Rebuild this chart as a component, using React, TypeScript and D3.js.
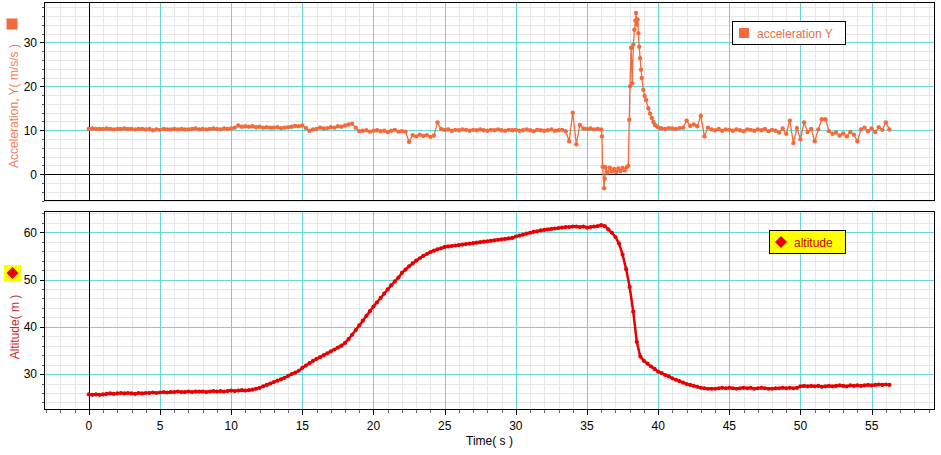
import * as d3 from 'd3'

// acceleration Y (m/s/s), sampled every 0.25 s from t = 0 to t = 35.75
const accelHead = [
  10.3, 10.4, 10.3, 10.3, 10.3, 10.4, 10.3, 10.2, 10.3, 10.3, 10.4, 10.3,
  10.3, 10.2, 10.3, 10.3, 10.2, 10.3, 10.0, 10.2, 10.1, 10.3, 10.2, 10.2,
  10.3, 10.2, 10.3, 10.2, 10.2, 10.3, 10.4, 10.2, 10.3, 10.2, 10.3, 10.4,
  10.3, 10.2, 10.4, 10.3, 10.4, 10.6, 11.1, 10.8, 10.9, 10.8, 10.9, 10.7,
  10.8, 10.6, 10.7, 10.6, 10.6, 10.7, 10.5, 10.6, 10.7, 10.8, 11.0, 10.9,
  11.1, 10.5, 9.9, 10.2, 10.3, 10.6, 10.4, 10.5, 10.7, 10.6, 10.9, 10.8,
  11.1, 11.3, 11.5, 10.6, 9.8, 9.9, 10.0, 9.7, 9.9, 10.0, 9.8, 9.9,
  9.6, 9.9, 10.1, 9.7, 9.8, 9.7, 7.4, 8.9, 8.6, 9.0, 8.7, 8.9,
  8.5, 8.8, 11.8, 10.3, 10.1, 10.2, 9.9, 10.1, 10.0, 10.2, 10.1, 9.9,
  10.1, 10.0, 10.2, 10.0, 9.9, 10.1, 10.0, 10.2, 10.0, 9.9, 10.1, 10.0,
  10.1, 9.9, 10.0, 10.2, 10.0, 9.8, 10.1, 10.0, 9.9, 10.0, 10.2, 9.9,
  10.0, 10.1, 9.8, 7.5, 14.0, 6.8, 11.2, 10.4, 10.3, 10.4, 10.2, 10.3,
]

// free fall and parachute opening, irregular samples [t, value]
const accelEvent: [number, number][] = [
  [36.0, 10.2], [36.05, 8.6], [36.1, 1.7], [36.2, -3.2], [36.25, -1.0], [36.3, 1.6],
  [36.45, 0.4], [36.6, 1.5], [36.75, 0.6], [36.9, 1.2], [37.05, 0.5], [37.2, 1.3],
  [37.35, 0.7], [37.5, 1.4], [37.65, 0.9], [37.8, 1.6], [37.9, 1.9], [37.97, 12.4],
  [38.02, 20.0], [38.1, 28.8], [38.18, 20.7], [38.26, 29.5], [38.33, 32.9], [38.4, 35.0],
  [38.45, 36.7], [38.5, 34.0], [38.56, 35.2], [38.61, 32.1], [38.67, 29.0], [38.73, 26.4],
  [38.8, 23.8], [38.85, 21.9], [38.96, 19.2], [39.05, 17.8], [39.15, 16.9], [39.31, 15.0],
  [39.43, 13.8], [39.55, 12.8], [39.67, 11.9], [39.78, 11.2], [39.95, 10.8], [40.1, 10.5],
]

// every 0.25 s from t = 40.25
const accelTail = [
  10.4, 10.3, 10.5, 10.4, 10.3, 10.5, 10.6, 12.2, 11.0, 11.3, 10.9, 13.3,
  8.6, 10.6, 10.2, 10.0, 10.3, 9.9, 10.2, 10.1, 9.9, 10.2, 10.0, 9.8,
  10.2, 10.1, 9.9, 10.2, 10.0, 10.3, 9.8, 10.1, 9.9, 9.5, 10.4, 9.2,
  12.2, 7.1, 10.5, 7.9, 11.8, 9.6, 10.3, 7.5, 10.2, 12.5, 12.5, 9.8,
  9.2, 9.5, 8.8, 9.3, 8.6, 9.6, 9.0, 7.5, 10.2, 10.6, 9.8, 10.4,
  9.6, 10.7, 10.1, 11.8, 10.2,
]

// altitude (m), every 0.25 s from t = 0
const altitude = [
  25.7, 25.6, 25.7, 25.6, 25.7, 25.8, 25.9, 25.8, 25.9, 26.0, 25.9, 26.0,
  25.9, 25.8, 26.0, 25.9, 26.0, 26.0, 26.1, 26.0, 26.1, 26.2, 26.1, 26.2,
  26.2, 26.3, 26.2, 26.2, 26.3, 26.2, 26.3, 26.3, 26.3, 26.2, 26.3, 26.4,
  26.3, 26.4, 26.3, 26.4, 26.5, 26.4, 26.5, 26.6, 26.5, 26.6, 26.7, 26.9,
  27.1, 27.4, 27.7, 28.0, 28.3, 28.6, 28.9, 29.2, 29.6, 30.0, 30.3, 30.7,
  31.3, 31.8, 32.3, 32.8, 33.2, 33.6, 34.0, 34.4, 34.8, 35.2, 35.6, 36.0,
  36.6, 37.4, 38.3, 39.3, 40.3, 41.3, 42.3, 43.3, 44.3, 45.2, 46.1, 47.0,
  47.9, 48.8, 49.6, 50.4, 51.4, 52.1, 52.8, 53.4, 54.0, 54.5, 55.0, 55.4,
  55.8, 56.1, 56.4, 56.6, 56.9, 57.0, 57.1, 57.2, 57.3, 57.4, 57.5, 57.6,
  57.7, 57.8, 57.9, 58.0, 58.1, 58.2, 58.3, 58.4, 58.5, 58.6, 58.7, 58.8,
  59.1, 59.3, 59.5, 59.7, 59.9, 60.1, 60.2, 60.4, 60.5, 60.6, 60.7, 60.8,
  60.9, 61.0, 61.1, 61.1, 61.2, 61.2, 61.1, 61.2, 61.0, 61.1, 61.2, 61.3,
  61.5, 61.3, 60.6, 59.9, 59.0, 57.6, 55.3, 52.2, 48.4, 43.2, 36.8, 33.7,
  32.8, 32.2, 31.6, 31.1, 30.5, 30.2, 29.8, 29.5, 29.1, 28.8, 28.5, 28.2,
  27.9, 27.7, 27.5, 27.3, 27.1, 27.0, 26.9, 26.9, 26.9, 27.0, 27.1, 27.0,
  27.1, 27.0, 26.9, 27.0, 27.1, 27.0, 27.1, 26.9, 27.0, 27.1, 27.0, 26.9,
  26.9, 27.0, 27.0, 27.1, 27.0, 27.1, 27.0, 27.1, 27.4, 27.5, 27.4, 27.5,
  27.4, 27.5, 27.3, 27.4, 27.5, 27.4, 27.5, 27.6, 27.5, 27.4, 27.6, 27.5,
  27.6, 27.5, 27.6, 27.7, 27.6, 27.7, 27.8, 27.7, 27.8, 27.7,
]

const step = 0.25
const xTicks = [0, 5, 10, 15, 20, 25, 30, 35, 40, 45, 50, 55]
const accelTicks = [0, 10, 20, 30]
const altTicks = [30, 40, 50, 60]

const W = 941
const H = 455
const left = 44
const right = 935
const top1 = 2, bottom1 = 201
const top2 = 211, bottom2 = 410

const accelColor = '#f36a3b'
const altColor = '#e80000'
const majorGrid = '#66d6d6'
const minorGrid = '#e6e6e6'
const font = '"Liberation Sans", Arial, sans-serif'

const px = (v: number) => Math.round(v) + 0.5

const App = () => {
  const x = d3.scaleLinear().domain([-3.15, 59.45]).range([left, right])
  const yAcc = d3.scaleLinear().domain([-6.1, 39.2]).range([bottom1, top1])
  const yAlt = d3.scaleLinear().domain([22.4, 64.5]).range([bottom2, top2])

  const accelData: [number, number][] = [
    ...accelHead.map((v, i) => [i * step, v] as [number, number]),
    ...accelEvent,
    ...accelTail.map((v, i) => [40.25 + i * step, v] as [number, number]),
  ]
  const altData: [number, number][] = altitude.map((v, i) => [i * step, v])

  const accLine = d3.line<[number, number]>().x(d => x(d[0])).y(d => yAcc(d[1]))
  const altLine = d3.line<[number, number]>().x(d => x(d[0])).y(d => yAlt(d[1]))

  const minorX = d3.range(-3, 60, 1).filter(v => v % 5 !== 0)
  const majorX = xTicks.filter(v => v !== 0)

  const grid = (y: d3.ScaleLinear<number, number>, y0: number, y1: number,
                minorY: number[], majorY: number[]) => (
    <g>
      <rect x={left} y={y0} width={right - left} height={y1 - y0} fill="#fff" />
      {minorX.map(v => (
        <line key={'mx' + v} x1={px(x(v))} x2={px(x(v))} y1={y0} y2={y1} stroke={minorGrid} />
      ))}
      {minorY.map(v => (
        <line key={'my' + v} x1={left} x2={right} y1={px(y(v))} y2={px(y(v))} stroke={minorGrid} />
      ))}
      {majorX.map(v => (
        <line key={'Mx' + v} x1={px(x(v))} x2={px(x(v))} y1={y0} y2={y1} stroke={majorGrid} />
      ))}
      {majorY.map(v => (
        <line key={'My' + v} x1={left} x2={right} y1={px(y(v))} y2={px(y(v))} stroke={majorGrid} />
      ))}
      <line x1={px(x(0))} x2={px(x(0))} y1={y0} y2={y1} stroke="#000" />
      {/* y ticks */}
      {minorY.map(v => (
        <line key={'ty' + v} x1={left - 2} x2={left} y1={px(y(v))} y2={px(y(v))} stroke="#555" />
      ))}
      {majorY.map(v => (
        <g key={'tl' + v}>
          <line x1={left - 4} x2={left} y1={px(y(v))} y2={px(y(v))} stroke="#000" />
          <text x={37} y={y(v)} dy="0.36em" textAnchor="end" fontSize={12} fontFamily={font} fill="#000">
            {v}
          </text>
        </g>
      ))}
    </g>
  )

  return (
    <div style={{ position: 'absolute', left: 0, top: 0 }}>
      <svg width={W} height={H} style={{ display: 'block', background: '#fff' }}>
        <defs>
          <clipPath id="clip1"><rect x={left} y={top1} width={right - left} height={bottom1 - top1} /></clipPath>
          <clipPath id="clip2"><rect x={left} y={top2} width={right - left} height={bottom2 - top2} /></clipPath>
        </defs>

        {/* acceleration panel */}
        {grid(yAcc, top1, bottom1, d3.range(-6, 40, 2).filter(v => v % 10 !== 0), accelTicks.filter(v => v !== 0))}
        {accelTicks.filter(v => v === 0).map(v => (
          <g key="zero">
            <line x1={left - 4} x2={left} y1={px(yAcc(0))} y2={px(yAcc(0))} stroke="#000" />
            <text x={37} y={yAcc(0)} dy="0.36em" textAnchor="end" fontSize={12} fontFamily={font}>{v}</text>
          </g>
        ))}
        <line x1={left} x2={right} y1={px(yAcc(0))} y2={px(yAcc(0))} stroke="#000" />
        <g clipPath="url(#clip1)">
          <path d={accLine(accelData) ?? ''} fill="none" stroke={accelColor} strokeWidth={1.3} />
          {accelData.map((d, i) => (
            <circle key={i} cx={x(d[0])} cy={yAcc(d[1])} r={2.2} fill={accelColor} />
          ))}
        </g>
        <rect x={left + 0.5} y={top1 + 0.5} width={right - left - 1} height={bottom1 - top1 - 1} fill="none" stroke="#000" />

        {/* altitude panel */}
        {grid(yAlt, top2, bottom2, d3.range(24, 65, 2).filter(v => v % 10 !== 0), altTicks)}
        <g clipPath="url(#clip2)">
          <path d={altLine(altData) ?? ''} fill="none" stroke={altColor} strokeWidth={2.5} />
          {altData.map((d, i) => (
            <circle key={i} cx={x(d[0])} cy={yAlt(d[1])} r={2.1} fill={altColor} />
          ))}
        </g>
        <rect x={left + 0.5} y={top2 + 0.5} width={right - left - 1} height={bottom2 - top2 - 1} fill="none" stroke="#000" />

        {/* x axis */}
        {d3.range(-3, 60, 1).map(v => (
          <line key={'xt' + v} x1={px(x(v))} x2={px(x(v))} y1={bottom2} y2={bottom2 + (v % 5 === 0 ? 5 : 3)}
                stroke={v % 5 === 0 ? '#000' : '#666'} />
        ))}
        {xTicks.map(v => (
          <text key={'xl' + v} x={x(v)} y={430} textAnchor="middle" fontSize={12} fontFamily={font}>{v}</text>
        ))}
        <text x={(left + right) / 2} y={445} textAnchor="middle" fontSize={12} fontFamily={font}>Time( s )</text>

        {/* y axis titles */}
        <rect x={6.5} y={18.5} width={11} height={11} fill={accelColor} />
        <text transform="translate(18,106) rotate(-90)" textAnchor="middle" fontSize={12} fontFamily={font} fill="#ee7d58">
          Acceleration, Y( m/s/s )
        </text>
        <rect x={4} y={265} width={17} height={17} fill="#ffff00" />
        <path d="M12.5,267 L18.5,273 L12.5,279 L6.5,273 Z" fill={altColor} />
        <text transform="translate(19,327) rotate(-90)" textAnchor="middle" fontSize={12} fontFamily={font} fill="#cc2b2b">
          Altitude( m )
        </text>

        {/* legends */}
        <rect x={732.5} y={21.5} width={113} height={23} fill="#fff" stroke="#000" />
        <rect x={739} y={28} width={10} height={10} fill={accelColor} />
        <text x={757} y={38} fontSize={12} fontFamily={font} fill="#e0714c">acceleration Y</text>

        <rect x={769.5} y={230.5} width={76} height={23} fill="#ffff00" stroke="#000" />
        <path d="M781,236 L787,242 L781,248 L775,242 Z" fill={altColor} />
        <text x={794} y={247} fontSize={12} fontFamily={font} fill="#cc0000">altitude</text>
      </svg>
    </div>
  )
}

export default App
